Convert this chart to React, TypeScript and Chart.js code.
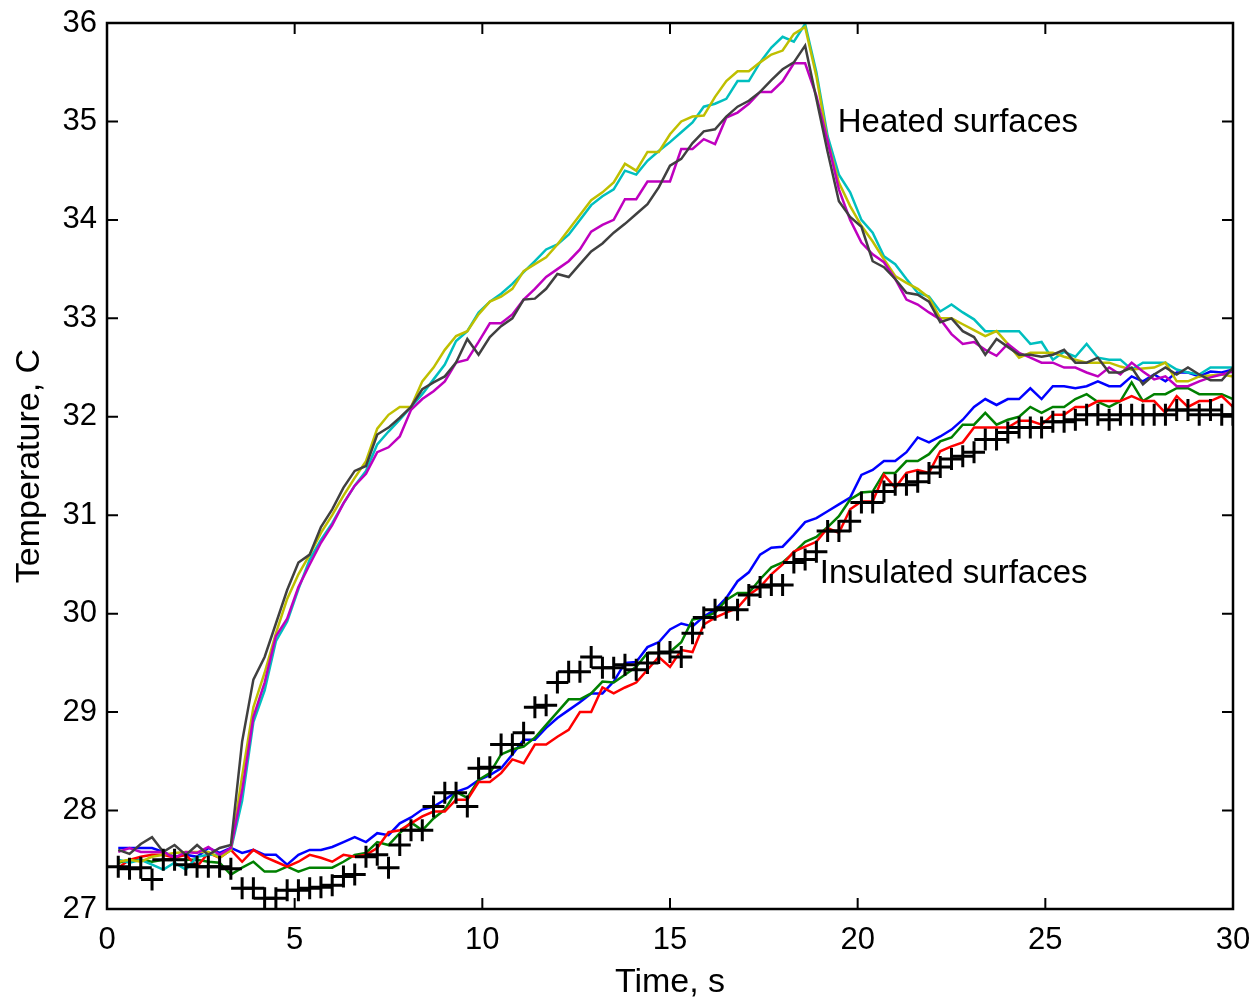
import React, { useEffect, useRef } from 'react';
import { Chart, registerables } from 'chart.js';

Chart.register(...registerables);

// Time samples, s
const TIME = [
  0.3, 0.6, 0.9, 1.2, 1.5, 1.8, 2.1, 2.4, 2.7, 3.0,
  3.3, 3.6, 3.9, 4.2, 4.5, 4.8, 5.1, 5.4, 5.7, 6.0,
  6.3, 6.6, 6.9, 7.2, 7.5, 7.8, 8.1, 8.4, 8.7, 9.0,
  9.3, 9.6, 9.9, 10.2, 10.5, 10.8, 11.1, 11.4, 11.7, 12.0,
  12.3, 12.6, 12.9, 13.2, 13.5, 13.8, 14.1, 14.4, 14.7, 15.0,
  15.3, 15.6, 15.9, 16.2, 16.5, 16.8, 17.1, 17.4, 17.7, 18.0,
  18.3, 18.6, 18.9, 19.2, 19.5, 19.8, 20.1, 20.4, 20.7, 21.0,
  21.3, 21.6, 21.9, 22.2, 22.5, 22.8, 23.1, 23.4, 23.7, 24.0,
  24.3, 24.6, 24.9, 25.2, 25.5, 25.8, 26.1, 26.4, 26.7, 27.0,
  27.3, 27.6, 27.9, 28.2, 28.5, 28.8, 29.1, 29.4, 29.7, 30.0,
];

// Heated surfaces
const HEATED_CYAN = [
  27.50, 27.47, 27.50, 27.45, 27.40, 27.47, 27.40, 27.53, 27.55, 27.55,
  27.60, 28.10, 28.90, 29.22, 29.72, 29.92, 30.25, 30.55, 30.75, 30.92,
  31.12, 31.30, 31.45, 31.72, 31.85, 31.97, 32.10, 32.23, 32.38, 32.53,
  32.77, 32.87, 33.06, 33.17, 33.25, 33.35, 33.47, 33.58, 33.70, 33.75,
  33.85, 34.00, 34.15, 34.24, 34.31, 34.50, 34.46, 34.60, 34.70, 34.79,
  34.89, 34.99, 35.15, 35.18, 35.23, 35.41, 35.41, 35.60, 35.75, 35.86,
  35.81, 35.99, 35.50, 34.85, 34.46, 34.28, 34.00, 33.87, 33.63, 33.55,
  33.40, 33.26, 33.22, 33.07, 33.14, 33.06, 32.99, 32.87, 32.87, 32.87,
  32.87, 32.74, 32.76, 32.58, 32.66, 32.61, 32.74, 32.60, 32.58, 32.58,
  32.48, 32.55, 32.55, 32.55, 32.48, 32.45, 32.43, 32.50, 32.50, 32.50,
];
const HEATED_YELLOW = [
  27.48, 27.50, 27.48, 27.53, 27.55, 27.57, 27.58, 27.58, 27.58, 27.52,
  27.60, 28.35, 29.05, 29.40, 29.80, 30.15, 30.40, 30.60, 30.82, 31.00,
  31.20, 31.38, 31.55, 31.88, 32.02, 32.10, 32.10, 32.36, 32.50, 32.68,
  32.82, 32.87, 33.04, 33.17, 33.22, 33.30, 33.48, 33.55, 33.62, 33.75,
  33.90, 34.05, 34.20, 34.28, 34.38, 34.57, 34.50, 34.69, 34.69, 34.87,
  35.00, 35.05, 35.06, 35.25, 35.41, 35.51, 35.51, 35.60, 35.68, 35.72,
  35.89, 35.96, 35.46, 34.80, 34.38, 34.14, 33.94, 33.78, 33.60, 33.43,
  33.36, 33.30, 33.21, 33.00, 33.00, 32.94, 32.88, 32.82, 32.87, 32.74,
  32.60, 32.65, 32.65, 32.65, 32.61, 32.58, 32.55, 32.55, 32.55, 32.51,
  32.48, 32.49, 32.50, 32.55, 32.36, 32.36, 32.41, 32.42, 32.43, 32.41,
];
const HEATED_MAGENTA = [
  27.58, 27.62, 27.58, 27.58, 27.58, 27.52, 27.58, 27.57, 27.63, 27.55,
  27.62, 28.20, 28.95, 29.30, 29.77, 29.95, 30.27, 30.50, 30.72, 30.90,
  31.12, 31.30, 31.42, 31.64, 31.69, 31.80, 32.07, 32.18, 32.26, 32.36,
  32.55, 32.58, 32.76, 32.95, 32.95, 33.04, 33.19, 33.30, 33.42, 33.50,
  33.58, 33.70, 33.88, 33.95, 34.00, 34.21, 34.21, 34.39, 34.39, 34.39,
  34.72, 34.72, 34.82, 34.77, 35.04, 35.09, 35.18, 35.30, 35.30, 35.41,
  35.59, 35.59, 35.26, 34.80, 34.31, 34.00, 33.77, 33.65, 33.57, 33.40,
  33.19, 33.14, 33.06, 32.99, 32.84, 32.74, 32.76, 32.68, 32.62, 32.74,
  32.65, 32.60, 32.55, 32.55, 32.50, 32.50, 32.45, 32.41, 32.50, 32.43,
  32.55, 32.46, 32.38, 32.41, 32.31, 32.31, 32.36, 32.40, 32.43, 32.46,
];
const HEATED_GRAY = [
  27.60, 27.56, 27.66, 27.73, 27.58, 27.65, 27.55, 27.65, 27.55, 27.62,
  27.65, 28.70, 29.33, 29.56, 29.90, 30.24, 30.52, 30.60, 30.88, 31.06,
  31.28, 31.45, 31.50, 31.82, 31.89, 31.99, 32.10, 32.28, 32.35, 32.41,
  32.55, 32.79, 32.63, 32.81, 32.92, 33.00, 33.19, 33.20, 33.30, 33.45,
  33.42, 33.55, 33.68, 33.76, 33.87, 33.96, 34.06, 34.16, 34.33, 34.55,
  34.62, 34.78, 34.90, 34.92, 35.05, 35.15, 35.21, 35.30, 35.42, 35.53,
  35.60, 35.77, 35.23, 34.69, 34.19, 34.03, 33.93, 33.58, 33.52, 33.40,
  33.26, 33.24, 33.17, 32.96, 33.00, 32.87, 32.81, 32.63, 32.79, 32.71,
  32.63, 32.63, 32.61, 32.63, 32.68, 32.55, 32.55, 32.60, 32.45, 32.45,
  32.50, 32.33, 32.43, 32.50, 32.43, 32.50, 32.43, 32.37, 32.37, 32.50,
];

// Insulated surfaces
const INSULATED_BLUE = [
  27.62, 27.62, 27.62, 27.62, 27.58, 27.53, 27.55, 27.53, 27.62, 27.57,
  27.62, 27.57, 27.60, 27.55, 27.55, 27.45, 27.55, 27.60, 27.60, 27.63,
  27.68, 27.73, 27.68, 27.77, 27.75, 27.87, 27.93, 28.01, 28.04, 28.11,
  28.19, 28.23, 28.31, 28.36, 28.43, 28.57, 28.72, 28.72, 28.84, 28.94,
  29.02, 29.10, 29.19, 29.19, 29.31, 29.50, 29.51, 29.66, 29.71, 29.84,
  29.90, 29.87, 29.97, 30.04, 30.16, 30.33, 30.42, 30.60, 30.67, 30.68,
  30.80, 30.93, 30.97, 31.04, 31.11, 31.18, 31.41, 31.46, 31.55, 31.55,
  31.64, 31.79, 31.74, 31.80, 31.87, 31.97, 32.10, 32.18, 32.12, 32.18,
  32.18, 32.29, 32.18, 32.31, 32.31, 32.29, 32.31, 32.36, 32.31, 32.31,
  32.41, 32.36, 32.43, 32.36, 32.45, 32.45, 32.41, 32.46, 32.45, 32.48,
];
const INSULATED_GREEN = [
  27.47, 27.50, 27.50, 27.48, 27.50, 27.50, 27.50, 27.50, 27.48, 27.47,
  27.35, 27.42, 27.48, 27.38, 27.38, 27.43, 27.38, 27.42, 27.42, 27.42,
  27.48, 27.55, 27.57, 27.68, 27.65, 27.77, 27.88, 27.80, 27.92, 28.01,
  28.19, 28.13, 28.31, 28.38, 28.57, 28.62, 28.65, 28.74, 28.87, 29.00,
  29.13, 29.13, 29.19, 29.31, 29.30, 29.38, 29.46, 29.60, 29.60, 29.61,
  29.71, 29.94, 29.96, 30.01, 30.14, 30.21, 30.21, 30.35, 30.47, 30.52,
  30.62, 30.73, 30.78, 30.88, 30.99, 31.16, 31.23, 31.24, 31.43, 31.43,
  31.55, 31.55, 31.62, 31.75, 31.79, 31.92, 31.92, 32.04, 31.92, 31.97,
  32.00, 32.10, 32.04, 32.10, 32.10, 32.18, 32.23, 32.15, 32.10, 32.16,
  32.35, 32.16, 32.23, 32.23, 32.29, 32.29, 32.23, 32.23, 32.23, 32.18,
];
const INSULATED_RED = [
  27.42, 27.50, 27.53, 27.55, 27.55, 27.52, 27.55, 27.43, 27.57, 27.52,
  27.60, 27.48, 27.60, 27.53, 27.48, 27.43, 27.48, 27.55, 27.52, 27.48,
  27.55, 27.53, 27.55, 27.62, 27.78, 27.80, 27.87, 27.94, 27.99, 27.99,
  28.11, 28.11, 28.29, 28.29, 28.38, 28.52, 28.48, 28.67, 28.67, 28.75,
  28.82, 29.00, 29.00, 29.25, 29.19, 29.25, 29.30, 29.43, 29.56, 29.46,
  29.63, 29.61, 29.89, 29.96, 30.01, 30.06, 30.19, 30.27, 30.40, 30.50,
  30.63, 30.68, 30.73, 30.87, 30.82, 31.06, 31.14, 31.14, 31.41, 31.28,
  31.43, 31.46, 31.43, 31.65, 31.70, 31.74, 31.89, 31.89, 31.89, 31.89,
  31.96, 31.96, 31.92, 32.02, 32.02, 32.10, 32.10, 32.16, 32.16, 32.16,
  32.21, 32.16, 32.16, 32.04, 32.21, 32.10, 32.16, 32.16, 32.21, 32.10,
];
const INSULATED_CROSSES = [
  27.43, 27.41, 27.42, 27.30, 27.50, 27.50, 27.45, 27.43, 27.43, 27.43,
  27.41, 27.21, 27.21, 27.11, 27.11, 27.19, 27.19, 27.21, 27.22, 27.24,
  27.33, 27.35, 27.53, 27.55, 27.42, 27.65, 27.80, 27.80, 28.04, 28.18,
  28.18, 28.04, 28.43, 28.44, 28.67, 28.67, 28.79, 29.05, 29.07, 29.30,
  29.41, 29.41, 29.56, 29.45, 29.45, 29.48, 29.43, 29.50, 29.60, 29.61,
  29.56, 29.80, 29.96, 30.04, 30.06, 30.04, 30.19, 30.27, 30.29, 30.29,
  30.52, 30.55, 30.63, 30.84, 30.84, 30.94, 31.13, 31.13, 31.24, 31.31,
  31.31, 31.34, 31.43, 31.49, 31.57, 31.60, 31.64, 31.77, 31.77, 31.84,
  31.89, 31.89, 31.89, 31.95, 31.95, 31.97, 32.02, 32.02, 31.97, 32.02,
  32.02, 32.02, 32.02, 32.02, 32.07, 32.07, 32.02, 32.07, 32.02, 32.02,
];

const X_TICKS = [0, 5, 10, 15, 20, 25, 30];
const Y_TICKS = [27, 28, 29, 30, 31, 32, 33, 34, 35, 36];

const LABELS = [
  { text: 'Heated surfaces', x: 19.47, y: 34.89 },
  { text: 'Insulated surfaces', x: 18.99, y: 30.31 },
];

const FONT = "'Liberation Sans', Arial, Helvetica, sans-serif";

const pts = (vals: number[]) => TIME.map((t, i) => ({ x: t, y: vals[i] }));

const frameAndLabels = {
  id: 'frameAndLabels',
  afterDatasetsDraw(chart: any) {
    const { ctx, chartArea, scales } = chart;
    const { left, right, top, bottom } = chartArea;
    const xs = scales.x;
    const ys = scales.y;
    ctx.save();
    ctx.strokeStyle = '#000';
    ctx.lineWidth = 2.5;
    ctx.beginPath();
    ctx.rect(left, top, right - left, bottom - top);
    ctx.stroke();
    const L = 11;
    ctx.lineWidth = 2;
    ctx.beginPath();
    X_TICKS.forEach((v) => {
      const p = xs.getPixelForValue(v);
      ctx.moveTo(p, bottom);
      ctx.lineTo(p, bottom - L);
      ctx.moveTo(p, top);
      ctx.lineTo(p, top + L);
    });
    Y_TICKS.forEach((v) => {
      const p = ys.getPixelForValue(v);
      ctx.moveTo(left, p);
      ctx.lineTo(left + L, p);
      ctx.moveTo(right, p);
      ctx.lineTo(right - L, p);
    });
    ctx.stroke();
    ctx.fillStyle = '#000';
    ctx.font = `33px ${FONT}`;
    ctx.textAlign = 'left';
    ctx.textBaseline = 'alphabetic';
    LABELS.forEach((l) => {
      ctx.fillText(l.text, xs.getPixelForValue(l.x), ys.getPixelForValue(l.y));
    });
    ctx.restore();
  },
};

export default function App() {
  const ref = useRef<HTMLCanvasElement>(null);
  useEffect(() => {
    const lineDs = (label: string, vals: number[], color: string) => ({
      label,
      data: pts(vals),
      borderColor: color,
      backgroundColor: color,
      borderWidth: 2.5,
      pointRadius: 0,
      fill: false,
      tension: 0,
    });
    const chart = new Chart(ref.current as HTMLCanvasElement, {
      type: 'line',
      data: {
        datasets: [
          {
            label: 'Insulated (markers)',
            data: pts(INSULATED_CROSSES),
            showLine: false,
            pointStyle: 'cross',
            pointRadius: 11,
            pointBorderWidth: 3,
            borderColor: '#000',
            backgroundColor: '#000',
            pointBorderColor: '#000',
          } as any,
          lineDs('Heated 4', HEATED_GRAY, '#404040'),
          lineDs('Heated 3', HEATED_MAGENTA, '#bf00bf'),
          lineDs('Heated 2', HEATED_YELLOW, '#bfbf00'),
          lineDs('Heated 1', HEATED_CYAN, '#00bfbf'),
          lineDs('Insulated 3', INSULATED_RED, '#ff0000'),
          lineDs('Insulated 2', INSULATED_GREEN, '#008000'),
          lineDs('Insulated 1', INSULATED_BLUE, '#0000ff'),
        ],
      },
      options: {
        responsive: false,
        maintainAspectRatio: false,
        devicePixelRatio: 1,
        animation: false,
        layout: { padding: { left: 0, right: 24, top: 23, bottom: 0 } },
        plugins: {
          legend: { display: false },
          tooltip: { enabled: false },
        },
        scales: {
          x: {
            type: 'linear',
            min: 0,
            max: 30,
            grid: { display: false, drawTicks: false },
            border: { display: false },
            afterBuildTicks: (s: any) => {
              s.ticks = X_TICKS.map((v) => ({ value: v }));
            },
            afterFit: (s: any) => {
              s.height = 94;
              s.paddingLeft = 0;
              s.paddingRight = 0;
            },
            ticks: {
              color: '#000',
              padding: 13,
              font: { family: FONT, size: 31 },
              maxRotation: 0,
            },
            title: {
              display: true,
              text: 'Time, s',
              color: '#000',
              font: { family: FONT, size: 34 },
              padding: { top: 0, bottom: 0 },
            },
          },
          y: {
            type: 'linear',
            min: 27,
            max: 36,
            grid: { display: false, drawTicks: false },
            border: { display: false },
            afterBuildTicks: (s: any) => {
              s.ticks = Y_TICKS.map((v) => ({ value: v }));
            },
            afterFit: (s: any) => {
              s.width = 107;
              s.paddingTop = 0;
              s.paddingBottom = 0;
            },
            ticks: {
              color: '#000',
              padding: 10,
              font: { family: FONT, size: 31 },
            },
            title: {
              display: true,
              text: 'Temperature, C',
              color: '#000',
              font: { family: FONT, size: 34 },
              padding: { top: 9, bottom: 0 },
            },
          },
        },
      },
      plugins: [frameAndLabels],
    });
    return () => chart.destroy();
  }, []);
  return (
    <div style={{ position: 'fixed', left: 0, top: 0, width: 1257, height: 1003, background: '#fff' }}>
      <canvas ref={ref} width={1257} height={1003} style={{ display: 'block' }} />
    </div>
  );
}
